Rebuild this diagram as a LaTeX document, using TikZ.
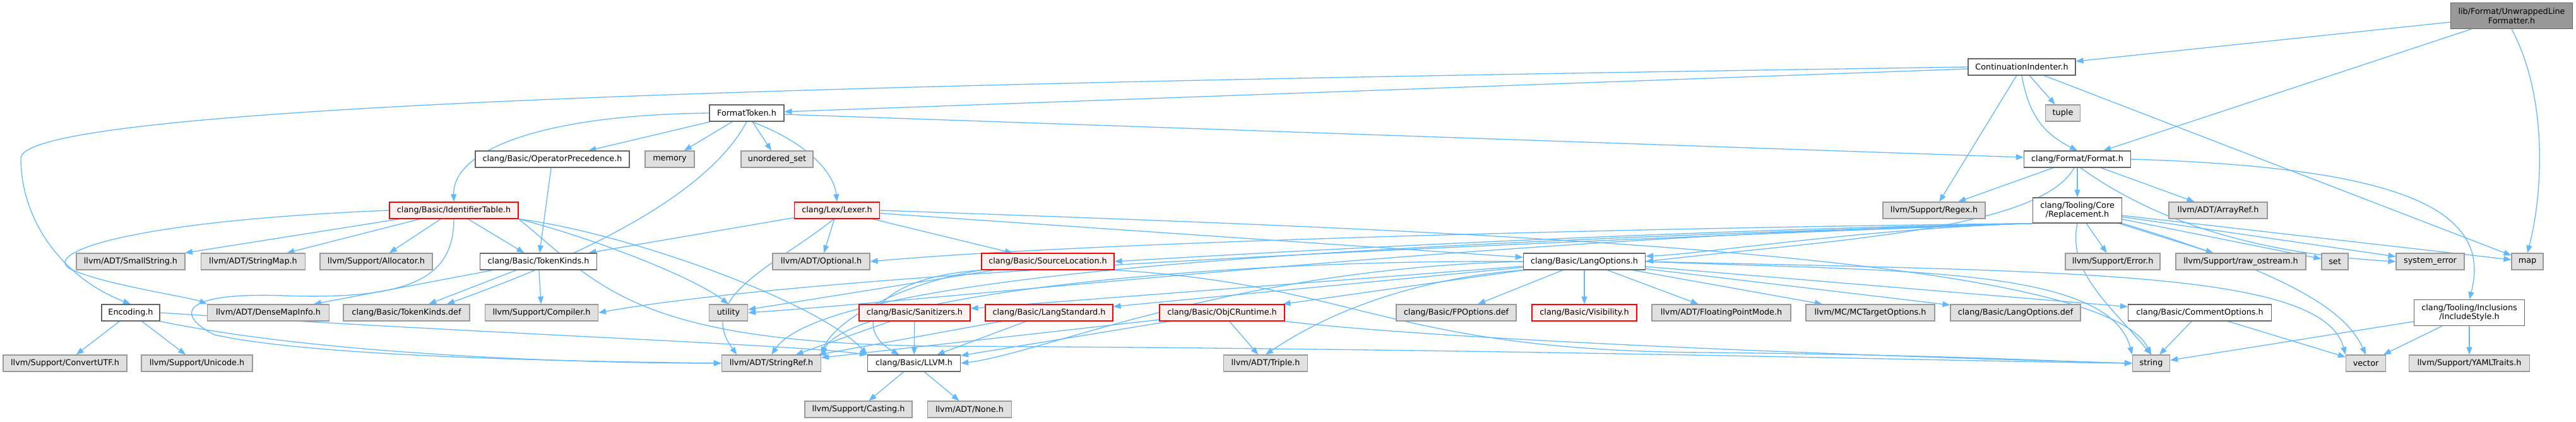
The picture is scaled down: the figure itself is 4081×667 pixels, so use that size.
\documentclass[tikz,border=0pt]{standalone}
\usepackage{fontspec}
\setmainfont{DejaVu Sans}
\usetikzlibrary{arrows.meta,backgrounds}
\definecolor{edgec}{HTML}{63B8FF}
\definecolor{gfill}{HTML}{E0E0E0}
\definecolor{gline}{HTML}{999999}
\definecolor{wline}{HTML}{666666}
\definecolor{rfill}{HTML}{FFF0F0}
\definecolor{rline}{HTML}{FF0000}
\tikzset{
  base/.style={draw, line width=1.2pt, inner sep=0pt, minimum height=26pt, align=center,
    font=\fontsize{12.8}{14.5}\selectfont},
  gbox/.style={base, fill=gfill, draw=gline},
  wbox/.style={base, fill=white, draw=wline},
  rbox/.style={base, fill=rfill, draw=rline},
  topbox/.style={base, fill=gline, draw=wline},
  lnk/.style={draw=edgec, line width=1.3pt, -{Triangle[length=12pt,width=9pt]}, edgec}
}
\begin{document}
\begin{tikzpicture}[x=1pt,y=-1pt]
\useasboundingbox (0,0) rectangle (4081,667);
% row 0
\node[topbox, minimum width=193pt, minimum height=41pt] (ULF) at (3979,25) {lib/Format/UnwrappedLine\\Formatter.h};
% row 1
\node[wbox, minimum width=170pt] (CI) at (3203,106) {ContinuationIndenter.h};
% row 2
\node[wbox, minimum width=118pt] (FT) at (1183,179) {FormatToken.h};
\node[gbox, minimum width=55pt] (tuple) at (3268,179) {tuple};
% row 3
\node[wbox, minimum width=244pt] (OpPrec) at (875,252) {clang/Basic/OperatorPrecedence.h};
\node[gbox, minimum width=78pt] (memory) at (1061,252) {memory};
\node[gbox, minimum width=114pt] (uset) at (1231,252) {unordered\_set};
\node[wbox, minimum width=169pt] (Format) at (3291,252) {clang/Format/Format.h};
% row 4
\node[rbox, minimum width=204pt] (IdTable) at (719,333) {clang/Basic/IdentifierTable.h};
\node[rbox, minimum width=135pt] (Lexer) at (1326,333) {clang/Lex/Lexer.h};
\node[gbox, minimum width=162pt] (Regex) at (3064,333) {llvm/Support/Regex.h};
\node[wbox, minimum width=141pt, minimum height=40pt] (Repl) at (3291,333) {clang/Tooling/Core\\/Replacement.h};
\node[gbox, minimum width=156pt] (ArrayRef) at (3514,333) {llvm/ADT/ArrayRef.h};
% row 5
\node[gbox, minimum width=172pt] (SmallString) at (207,414) {llvm/ADT/SmallString.h};
\node[gbox, minimum width=165pt] (StringMap) at (401,414) {llvm/ADT/StringMap.h};
\node[gbox, minimum width=178pt] (Allocator) at (596,414) {llvm/Support/Allocator.h};
\node[wbox, minimum width=185pt] (TK) at (853,414) {clang/Basic/TokenKinds.h};
\node[gbox, minimum width=154pt] (Optional) at (1301,414) {llvm/ADT/Optional.h};
\node[rbox, minimum width=210pt] (SL) at (1660,414) {clang/Basic/SourceLocation.h};
\node[wbox, minimum width=193pt] (LO) at (2510,414) {clang/Basic/LangOptions.h};
\node[gbox, minimum width=150pt] (Error) at (3347,414) {llvm/Support/Error.h};
\node[gbox, minimum width=206pt] (raw) at (3550,414) {llvm/Support/raw\_ostream.h};
\node[gbox, minimum width=42pt] (set) at (3699,414) {set};
\node[gbox, minimum width=108pt] (syserr) at (3850,414) {system\_error};
\node[gbox, minimum width=50pt] (map) at (4004,414) {map};
% row 6
\node[wbox, minimum width=92pt] (Enc) at (207,495) {Encoding.h};
\node[gbox, minimum width=193pt] (DMI) at (425,495) {llvm/ADT/DenseMapInfo.h};
\node[gbox, minimum width=200pt] (TKD) at (644,495) {clang/Basic/TokenKinds.def};
\node[gbox, minimum width=179pt] (Compiler) at (858,495) {llvm/Support/Compiler.h};
\node[gbox, minimum width=61pt] (utility) at (1154,495) {utility};
\node[rbox, minimum width=176pt] (Sanit) at (1449,495) {clang/Basic/Sanitizers.h};
\node[rbox, minimum width=202pt] (LangStd) at (1662,495) {clang/Basic/LangStandard.h};
\node[rbox, minimum width=198pt] (ObjC) at (1936,495) {clang/Basic/ObjCRuntime.h};
\node[gbox, minimum width=190pt] (FPdef) at (2307,495) {clang/Basic/FPOptions.def};
\node[rbox, minimum width=166pt] (Vis) at (2510,495) {clang/Basic/Visibility.h};
\node[gbox, minimum width=220pt] (FPM) at (2727,495) {llvm/ADT/FloatingPointMode.h};
\node[gbox, minimum width=204pt] (MCT) at (2963,495) {llvm/MC/MCTargetOptions.h};
\node[gbox, minimum width=206pt] (LOdef) at (3193,495) {clang/Basic/LangOptions.def};
\node[wbox, minimum width=227pt] (CO) at (3485,495) {clang/Basic/CommentOptions.h};
\node[wbox, minimum width=175pt, minimum height=41pt] (IS) at (3912,495) {clang/Tooling/Inclusions\\/IncludeStyle.h};
% row 7
\node[gbox, minimum width=196pt] (CUTF) at (103,575) {llvm/Support/ConvertUTF.h};
\node[gbox, minimum width=176pt] (Unicode) at (312,575) {llvm/Support/Unicode.h};
\node[gbox, minimum width=157pt] (StringRef) at (1222,575) {llvm/ADT/StringRef.h};
\node[wbox, minimum width=147pt] (LLVM) at (1448,575) {clang/Basic/LLVM.h};
\node[gbox, minimum width=133pt] (Triple) at (2005,575) {llvm/ADT/Triple.h};
\node[gbox, minimum width=59pt] (string) at (3408,575) {string};
\node[gbox, minimum width=63pt] (vector) at (3748,575) {vector};
\node[gbox, minimum width=191pt] (YAML) at (3912,575) {llvm/Support/YAMLTraits.h};
% row 8
\node[gbox, minimum width=170pt] (Casting) at (1360,648) {llvm/Support/Casting.h};
\node[gbox, minimum width=133pt] (None) at (1536,648) {llvm/ADT/None.h};

\begin{pgfonlayer}{background}
% UnwrappedLineFormatter
\draw[lnk] (ULF) -- (CI);
\draw[lnk] (ULF) -- (Format);
\draw[lnk] (ULF.south) .. controls (4035,150) and (4030,300) .. (map.north);
% ContinuationIndenter
\draw[lnk] (CI.west) .. controls (1500,130) and (40,160) .. (33,250) .. controls (33,350) and (100,440) .. (Enc.north);
\draw[lnk] (CI) -- (FT);
\draw[lnk] (CI.south) .. controls (3215,190) and (3245,215) .. (Format.north);
\draw[lnk] (CI) -- (tuple);
\draw[lnk] (CI) -- (Regex);
\draw[lnk] (CI) -- (map);
% FormatToken
\draw[lnk] (FT) -- (Format);
\draw[lnk] (FT.west) .. controls (850,182) and (717,240) .. (IdTable.north);
\draw[lnk] (FT) -- (OpPrec);
\draw[lnk] (FT) -- (memory);
\draw[lnk] (FT) -- (uset);
\draw[lnk] (FT.-60) .. controls (1290,230) and (1322,280) .. (Lexer.north);
\draw[lnk] (FT.south) .. controls (1110,330) and (850,430) .. (TKD.12);
% OperatorPrecedence
\draw[lnk] (OpPrec) -- (TK);
% IdentifierTable
\draw[lnk] (IdTable) -- (SmallString);
\draw[lnk] (IdTable) -- (StringMap);
\draw[lnk] (IdTable) -- (Allocator);
\draw[lnk] (IdTable) -- (TK);
\draw[lnk] (IdTable.west) .. controls (200,350) and (70,400) .. (110,425) .. controls (160,450) and (300,470) .. (DMI.north west);
\draw[lnk] (IdTable.south) .. controls (719,440) and (650,475) .. (450,468) .. controls (280,462) and (280,500) .. (340,530) .. controls (500,565) and (900,572) .. (StringRef.west);
\draw[lnk] (IdTable.south east) .. controls (950,380) and (1100,440) .. (utility.north);
\draw[lnk] (IdTable.south east) .. controls (1000,370) and (1300,480) .. (LLVM.north west);
\draw[lnk] (IdTable.south east) .. controls (950,450) and (1000,545) .. (1500,548) .. controls (2400,552) and (3100,572) .. (string.west);
% TokenKinds
\draw[lnk] (TK) -- (TKD);
\draw[lnk] (TK) -- (Compiler);
\draw[lnk] (TK) -- (DMI);
% Encoding
\draw[lnk] (Enc) -- (CUTF);
\draw[lnk] (Enc) -- (Unicode);
\draw[lnk] (Enc.south east) .. controls (500,560) and (900,575) .. (StringRef.west);
\draw[lnk] (Enc.east) .. controls (800,530) and (1250,545) .. (LLVM.north west);
% Lexer
\draw[lnk] (Lexer) -- (TK);
\draw[lnk] (Lexer) -- (Optional);
\draw[lnk] (Lexer) -- (SL);
\draw[lnk] (Lexer) -- (LO);
\draw[lnk] (Lexer.250) .. controls (1230,420) and (1100,470) .. (StringRef.166);
\draw[lnk] (Lexer.east) .. controls (2300,365) and (3330,400) .. (string.north);
% SourceLocation
\draw[lnk] (SL.south west) .. controls (1420,450) and (1320,510) .. (StringRef.north east);
\draw[lnk] (SL.south west) .. controls (1380,440) and (1350,520) .. (LLVM.150);
\draw[lnk] (SL) -- (utility);
\draw[lnk] (SL.south east) .. controls (2150,450) and (2200,555) .. (2700,558) .. controls (3100,562) and (3250,572) .. (string.west);
% LangOptions
\draw[lnk] (LO) -- (FPdef);
\draw[lnk] (LO) -- (Vis);
\draw[lnk] (LO) -- (FPM);
\draw[lnk] (LO) -- (MCT);
\draw[lnk] (LO) -- (LOdef);
\draw[lnk] (LO) -- (CO);
\draw[lnk] (LO) -- (ObjC);
\draw[lnk] (LO) -- (LangStd);
\draw[lnk] (LO) -- (Sanit);
\draw[lnk] (LO.south west) .. controls (2250,440) and (2110,490) .. (Triple.north);
\draw[lnk] (LO.west) .. controls (1950,425) and (1650,560) .. (LLVM.east);
\draw[lnk] (LO.west) .. controls (1900,410) and (1350,470) .. (StringRef.north east);
\draw[lnk] (LO.east) .. controls (3000,430) and (3340,420) .. (string.north west);
\draw[lnk] (LO.east) .. controls (3300,430) and (3680,430) .. (vector.north west);
% Sanitizers, LangStandard, ObjCRuntime
\draw[lnk] (Sanit) -- (StringRef);
\draw[lnk] (Sanit) -- (LLVM);
\draw[lnk] (LangStd) -- (StringRef);
\draw[lnk] (LangStd) -- (LLVM);
\draw[lnk] (ObjC) -- (StringRef);
\draw[lnk] (ObjC) -- (LLVM);
\draw[lnk] (ObjC) -- (Triple);
\draw[lnk] (ObjC.south east) .. controls (2300,540) and (3000,565) .. (string.west);
% LLVM
\draw[lnk] (LLVM) -- (Casting);
\draw[lnk] (LLVM) -- (None);
% CommentOptions, IncludeStyle
\draw[lnk] (CO) -- (string);
\draw[lnk] (CO) -- (vector);
\draw[lnk] (IS) -- (string);
\draw[lnk] (IS) -- (vector);
\draw[lnk] (IS) -- (YAML);
% Format
\draw[lnk] (Format) -- (Regex);
\draw[lnk] (Format) -- (Repl);
\draw[lnk] (Format) -- (ArrayRef);
\draw[lnk] (Format.250) .. controls (3230,365) and (2900,380) .. (LO.east);
\draw[lnk] (Format.290) .. controls (3400,340) and (3550,400) .. (syserr.west);
\draw[lnk] (Format.east) .. controls (3800,265) and (3950,330) .. (IS.north);
% Replacement
\draw[lnk] (Repl) -- (Error);
\draw[lnk] (Repl) -- (raw);
\draw[lnk] (Repl) -- (set);
\draw[lnk] (Repl) -- (syserr);
\draw[lnk] (Repl) -- (map);
\draw[lnk] (Repl.south west) .. controls (2950,362) and (2700,402) .. (LO.5);
\draw[lnk] (Repl.south west) .. controls (2600,366) and (2000,400) .. (SL.east);
\draw[lnk] (Repl.south west) .. controls (2500,362) and (1700,385) .. (Optional.east);
\draw[lnk] (Repl.south west) .. controls (2400,372) and (1550,470) .. (utility.east);
\draw[lnk] (Repl.south west) .. controls (2300,382) and (1320,420) .. (StringRef.north);
\draw[lnk] (Repl.south west) .. controls (2300,388) and (1300,432) .. (Compiler.east);
\draw[lnk] (Repl.south) .. controls (3275,430) and (3340,480) .. (string.north);
\draw[lnk] (Repl.south east) .. controls (3650,440) and (3720,500) .. (vector.north);
\end{pgfonlayer}
\end{tikzpicture}
\end{document}
